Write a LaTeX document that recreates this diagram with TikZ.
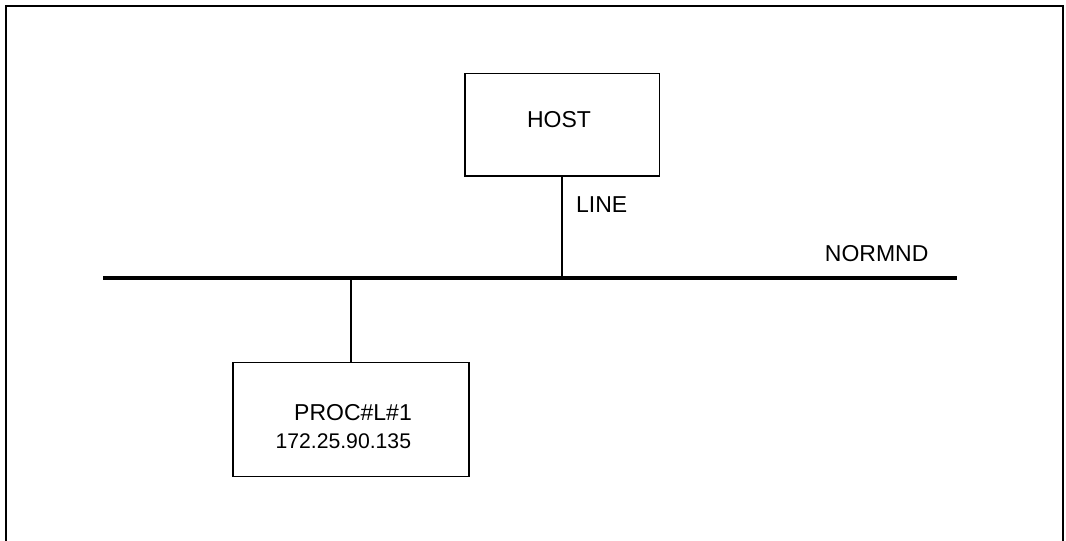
\documentclass[tikz,border=0pt]{standalone}
\usepackage{fontspec}
\setmainfont{Liberation Sans}
\usepackage{tikz}
\usetikzlibrary{positioning, calc}

\begin{document}
\begin{tikzpicture}[x=1pt, y=-1pt,
    unitbox/.style={rectangle, draw, line width=1.3pt, inner sep=0pt},
    lbl/.style={font=\fontsize{23}{27}\selectfont, inner sep=0pt},
    addr/.style={font=\fontsize{21.2}{25}\selectfont, inner sep=0pt},
    link/.style={line width=2pt}]
    \useasboundingbox (0,0) rectangle (1066,541);
    % outer frame, open at the bottom
    \draw[line width=2pt] (5.5,541) -- (5.5,6) -- (1063,6) -- (1063,541);

    % bus
    \coordinate (busL) at (103,278);
    \coordinate (busR) at (957,278);
    \draw[line width=4pt] (busL) -- (busR);
    \node[lbl] (normnd) at (876.7,253.3) {NORMND};

    % host
    \node[unitbox, minimum width=194.3pt, minimum height=102.7pt] (host) at (562.2,124.7) {};
    \node[lbl] (hostlbl) at (559,119.7) {HOST};
    \coordinate (tapH) at (562,278);
    \draw[link] (host.south -| tapH) -- (tapH);
    \node[lbl] (line) at (601.7,204.5) {LINE};

    % processor
    \node[unitbox, minimum width=236pt, minimum height=114pt] (proc) at (351,419.7) {};
    \node[lbl] (proclbl) at (353,412.7) {PROC\#L\#1};
    \node[addr] (procip) at (343.3,440.8) {172.25.90.135};
    \coordinate (tapP) at (351,278);
    \draw[link] (tapP) -- (tapP |- proc.north);
\end{tikzpicture}
\end{document}
